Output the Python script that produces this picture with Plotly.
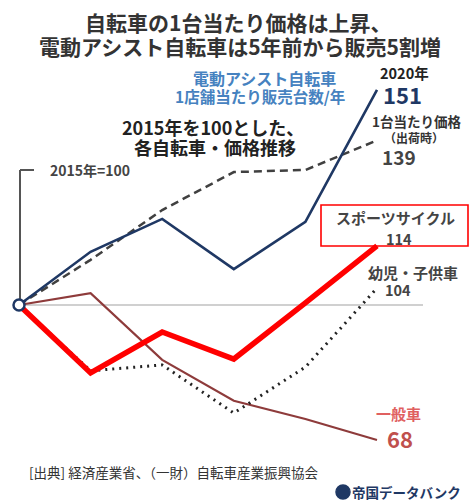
import plotly.graph_objects as go

W, H = 472, 501

years = [2015, 2016, 2017, 2018, 2019, 2020]
assist = [100, 112.6, 120.4, 108.5, 119.7, 151]      # 電動アシスト自転車 1店舗当たり販売台数
price = [100, 110.7, 122.5, 131.5, 132.0, 139]       # 1台当たり価格（出荷時）
sports = [100, 83.9, 93.6, 87.2, 100.5, 114]         # スポーツサイクル
kids = [100, 84.4, 85.8, 74.4, 85.3, 104]            # 幼児・子供車
general = [100, 102.8, 87.0, 77.3, 73.0, 68]         # 一般車

FONT = "Noto Sans CJK JP"

# pixel mapping for axis ranges (2015 -> px 19, 2020 -> px 377; 100 -> px 305, 4.22 px/unit)
pxx = (377 - 19) / 5.0
x0 = 2015 - 19 / pxx
x1 = x0 + W / pxx
pyu = 4.22
y_top = 100 + 305 / pyu
y_bot = 100 - (H - 305) / pyu

fig = go.Figure()

fig.add_trace(go.Scatter(x=years, y=general, mode="lines",
                         line=dict(color="#8e3b3b", width=2.2), hoverinfo="skip"))
fig.add_trace(go.Scatter(x=years, y=kids, mode="lines",
                         line=dict(color="#222222", width=3, dash="2px,5px"), hoverinfo="skip"))
fig.add_trace(go.Scatter(x=years, y=price, mode="lines",
                         line=dict(color="#404040", width=2.5, dash="8px,5px"), hoverinfo="skip"))
fig.add_trace(go.Scatter(x=years, y=assist, mode="lines",
                         line=dict(color="#1f3864", width=2.6), hoverinfo="skip"))
fig.add_trace(go.Scatter(x=years, y=sports, mode="lines",
                         line=dict(color="#ff0000", width=5.5), hoverinfo="skip"))
fig.add_trace(go.Scatter(x=[years[0]], y=[assist[0]], mode="markers",
                         marker=dict(size=11, color="white", line=dict(color="#1f3864", width=2.5)),
                         hoverinfo="skip"))


def px(x):
    return x / W


def py(y):
    return 1 - y / H


shapes = [
    # baseline at 100
    dict(type="line", xref="paper", yref="y", x0=px(20), x1=px(423), y0=100, y1=100,
         line=dict(color="#c0c0c0", width=1.5), layer="below"),
    # bracket
    dict(type="line", xref="paper", yref="paper", x0=px(20), x1=px(20), y0=py(170), y1=py(305),
         line=dict(color="#555555", width=2), layer="below"),
    dict(type="line", xref="paper", yref="paper", x0=px(20), x1=px(34), y0=py(170), y1=py(170),
         line=dict(color="#555555", width=2), layer="below"),
    # red box
    dict(type="rect", xref="paper", yref="paper", x0=px(321), x1=px(468), y0=py(205), y1=py(246),
         line=dict(color="#ff0000", width=1.6), fillcolor="rgba(255,255,255,0)"),
    # logo circle
    dict(type="circle", xref="paper", yref="paper", x0=px(336), x1=px(350), y0=py(485), y1=py(499),
         line=dict(color="#1f3864", width=1.5), fillcolor="#1f3864"),
]


def ann(text, x, y, size, color, bold=True):
    t = f"<b>{text}</b>" if bold else text
    return dict(text=t, x=px(x), y=py(y), xref="paper", yref="paper", showarrow=False,
                xanchor="center", yanchor="middle", borderpad=0,
                font=dict(family=FONT, size=size, color=color))


annotations = [
    ann("自転車の1台当たり価格は上昇、", 238, 22, 21, "#333333"),
    ann("電動アシスト自転車は5年前から販売5割増", 240, 46, 21, "#333333"),
    ann("電動アシスト自転車", 264, 78, 16, "#4682c0"),
    ann("1店舗当たり販売台数/年", 260, 96, 15.5, "#4682c0"),
    ann("2020年", 404, 72, 14.5, "#222222"),
    ann("151", 402, 94, 22, "#1f3864"),
    ann("1台当たり価格", 416, 121, 13.5, "#333333"),
    ann("（出荷時）", 414, 138, 12, "#333333"),
    ann("139", 399, 156, 19, "#444444"),
    ann("2015年を100とした、", 213, 127, 18, "#222222"),
    ann("各自転車・価格推移", 215, 147, 18, "#222222"),
    ann("2015年=100", 90, 170, 14, "#444444"),
    ann("スポーツサイクル", 395, 217, 15, "#444444"),
    ann("114", 399, 238, 14.5, "#444444"),
    ann("幼児・子供車", 413, 272, 15, "#444444"),
    ann("104", 398, 289, 14.5, "#444444"),
    ann("一般車", 398, 413, 15, "#e06060"),
    ann("68", 400, 438, 22, "#c0504d"),
    ann("[出典] 経済産業省、（一財）自転車産業振興協会", 173, 472, 13.5, "#333333", bold=False),
    ann("帝国データバンク", 406, 492, 13.5, "#1f3864"),
]

fig.update_layout(
    width=W, height=H,
    margin=dict(l=0, r=0, t=0, b=0),
    paper_bgcolor="white", plot_bgcolor="white",
    showlegend=False,
    xaxis=dict(range=[x0, x1], visible=False, fixedrange=True),
    yaxis=dict(range=[y_bot, y_top], visible=False, fixedrange=True),
    shapes=shapes,
    annotations=annotations,
)

fig.write_html("out.html", config={"displayModeBar": False},
               post_script="document.body.style.margin='0';document.body.style.overflow='hidden';")
